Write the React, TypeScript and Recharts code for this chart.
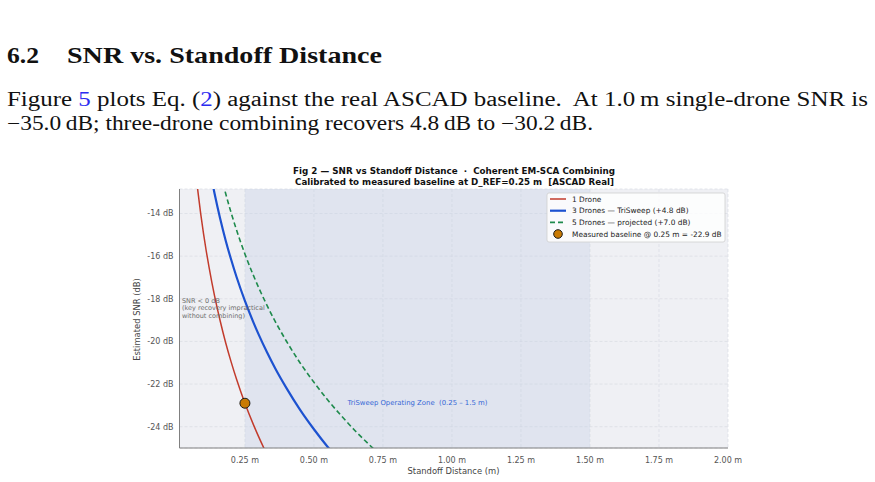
import {
  ComposedChart,
  Line,
  Scatter,
  XAxis,
  YAxis,
  CartesianGrid,
  ReferenceArea,
  ReferenceDot,
} from "recharts";

// standoff distance samples (m) and estimated SNR (dB)
const DISTANCE_M = [
  0.07, 0.08, 0.09, 0.1, 0.11, 0.12, 0.13, 0.14, 0.15, 0.16, 0.18, 0.2, 0.22, 0.25, 0.28, 0.3, 0.33,
  0.36, 0.4, 0.45, 0.5, 0.55, 0.6, 0.65, 0.7, 0.75, 0.8,
];
const SNR_1_DRONE = [
  -11.84, -13.0, -14.03, -14.94, -15.77, -16.52, -17.22, -17.86, -18.46, -19.02, -20.05, -20.96,
  -21.79, -22.9, -23.88, -24.48, -25.31, -26.07, -26.98, -28.01, -28.92, -29.75, -30.5, -31.2,
  -31.84, -32.44, -33.0,
];
const SNR_3_DRONES = [
  -7.04, -8.2, -9.23, -10.14, -10.97, -11.72, -12.42, -13.06, -13.66, -14.22, -15.25, -16.16,
  -16.99, -18.1, -19.08, -19.68, -20.51, -21.27, -22.18, -23.21, -24.12, -24.95, -25.7, -26.4,
  -27.04, -27.64, -28.2,
];
const SNR_5_DRONES = [
  -4.84, -6.0, -7.03, -7.94, -8.77, -9.52, -10.22, -10.86, -11.46, -12.02, -13.05, -13.96, -14.79,
  -15.9, -16.88, -17.48, -18.31, -19.07, -19.98, -21.01, -21.92, -22.75, -23.5, -24.2, -24.84,
  -25.44, -26.0,
];
const BASELINE = [{ d: 0.25, snr: -22.9 }];

const X_TICKS = [0.25, 0.5, 0.75, 1.0, 1.25, 1.5, 1.75, 2.0];
const Y_TICKS = [-24, -22, -20, -18, -16, -14];
const ZONE = [0.25, 1.5];

const SERIES_LABELS = [
  "1 Drone",
  "3 Drones — TriSweep (+4.8 dB)",
  "5 Drones — projected (+7.0 dB)",
  "Measured baseline @ 0.25 m = -22.9 dB",
];

const RED = "#c23b2c";
const BLUE = "#1d52d0";
const GREEN = "#1e8a4c";
const ORANGE = "#c97a04";

const rows = DISTANCE_M.map((d, i) => ({
  d,
  one: SNR_1_DRONE[i],
  three: SNR_3_DRONES[i],
  five: SNR_5_DRONES[i],
}));

const FONT = "'DejaVu Sans', sans-serif";
const SERIF = "'Liberation Serif', 'Times New Roman', serif";
const LINK = "#2b2bf0";
const PRE = { whiteSpace: "pre" as const };

function PageText() {
  return (
    <svg
      width={875}
      height={482}
      style={{ position: "absolute", left: 0, top: 0, pointerEvents: "none" }}
    >
      <g fontFamily={SERIF} fill="#111">
        <text x={7} y={63} fontSize={22.5} fontWeight="bold" textLength={32} lengthAdjust="spacingAndGlyphs">
          6.2
        </text>
        <text x={67} y={63} fontSize={22.5} fontWeight="bold" textLength={315} lengthAdjust="spacingAndGlyphs">
          SNR vs. Standoff Distance
        </text>
        <text x={7} y={106} fontSize={20} textLength={861} lengthAdjust="spacingAndGlyphs" style={PRE}>
          {"Figure "}
          <tspan fill={LINK}>5</tspan>
          {" plots Eq. ("}
          <tspan fill={LINK}>2</tspan>
          {") against the real ASCAD baseline.  At 1.0\u2009m single-drone SNR is"}
        </text>
        <text x={7} y={130} fontSize={20} textLength={586} lengthAdjust="spacingAndGlyphs">
          {"\u221235.0\u2009dB; three-drone combining recovers 4.8\u2009dB to \u221230.2\u2009dB."}
        </text>
      </g>

      <g fontFamily={FONT} fontWeight="bold" fill="#111" fontSize={8.6} textAnchor="middle">
        <text x={454} y={174} textLength={322} lengthAdjust="spacingAndGlyphs" style={PRE}>
          {"Fig 2 — SNR vs Standoff Distance  ·  Coherent EM-SCA Combining"}
        </text>
        <text x={454.5} y={184.5} textLength={319} lengthAdjust="spacingAndGlyphs" style={PRE}>
          {"Calibrated to measured baseline at D_REF=0.25 m  [ASCAD Real]"}
        </text>
      </g>

      <g fontFamily={FONT} fill="#444" fontSize={8.4} textAnchor="middle">
        <text x={137} y={319.5} transform="rotate(-90 137 319.5)" dominantBaseline="central">
          Estimated SNR (dB)
        </text>
        <text x={453.5} y={473.5}>Standoff Distance (m)</text>
      </g>

      <g fontFamily={FONT} fontSize={7.4} fill="#222">
        <rect x={547} y={193} width={178} height={49} rx={2} fill="#ffffff" fillOpacity={0.82} stroke="#cfcfcf" strokeWidth={0.8} />
        <line x1={550} x2={566} y1={199} y2={199} stroke={RED} strokeWidth={1.5} />
        <line x1={550} x2={566} y1={210.7} y2={210.7} stroke={BLUE} strokeWidth={2.2} />
        <line x1={550} x2={566} y1={222.4} y2={222.4} stroke={GREEN} strokeWidth={1.6} strokeDasharray="5 3" />
        <circle cx={558} cy={234} r={4.3} fill={ORANGE} stroke="#1a1a1a" strokeWidth={1} />
        {SERIES_LABELS.map((label, i) => (
          <text key={label} x={572} y={199 + i * 11.7} dominantBaseline="central">
            {label}
          </text>
        ))}
      </g>
    </svg>
  );
}

export default function App() {
  return (
    <div style={{ position: "absolute", left: 0, top: 0, width: 875, height: 482, background: "#fff" }}>
      <div style={{ position: "absolute", left: 0, top: 152 }}>
        <ComposedChart
          width={875}
          height={330}
          data={rows}
          margin={{ top: 37, right: 147, left: 0, bottom: 0 }}
        >
          <CartesianGrid
            fill="#eff0f4"
            stroke="#d9dbe2"
            strokeDasharray="3 2"
            strokeWidth={0.7}
          />
          <XAxis
            type="number"
            dataKey="d"
            domain={[0.013, 2.0]}
            allowDataOverflow
            ticks={X_TICKS}
            tickFormatter={(v) => `${Number(v).toFixed(2)} m`}
            tick={{ fontSize: 8, fill: "#555", fontFamily: FONT }}
            tickLine={false}
            tickSize={6}
            tickMargin={3}
            axisLine={{ stroke: "#808080", strokeWidth: 1 }}
            height={34}
            interval={0}
          />
          <YAxis
            type="number"
            domain={[-25, -12.85]}
            allowDataOverflow
            ticks={Y_TICKS}
            tickFormatter={(v) => `${v} dB`}
            tick={{ fontSize: 8, fill: "#555", fontFamily: FONT }}
            tickLine={false}
            tickSize={4}
            tickMargin={2}
            axisLine={{ stroke: "#808080", strokeWidth: 1 }}
            width={179.5}
            interval={0}
          />
          <ReferenceArea
            x1={ZONE[0]}
            x2={ZONE[1]}
            y1={-25}
            y2={-12.85}
            fill="#c4cfe6"
            fillOpacity={0.36}
            stroke="none"
          />
          <ReferenceDot
            x={0.022}
            y={-18.11}
            r={0}
            ifOverflow="visible"
            shape={(p: any) => (
              <text x={p.cx} y={p.cy} fontFamily={FONT} fontSize={6.5} fill="#6e6e6e" dominantBaseline="central">
                <tspan x={p.cx} dy={0}>SNR &lt; 0 dB</tspan>
                <tspan x={p.cx} dy={7.3}>(key recovery impractical</tspan>
                <tspan x={p.cx} dy={7.3}>without combining)</tspan>
              </text>
            )}
          />
          <ReferenceDot
            x={(ZONE[0] + ZONE[1]) / 2}
            y={-22.9}
            r={0}
            ifOverflow="visible"
            shape={(p: any) => (
              <text
                x={p.cx}
                y={p.cy}
                fontFamily={FONT}
                fontSize={6.9}
                fill="#3567d6"
                textAnchor="middle"
                dominantBaseline="central"
                style={PRE}
              >
                {"TriSweep Operating Zone  (0.25 – 1.5 m)"}
              </text>
            )}
          />
          <Line
            type="monotone"
            dataKey="one"
            stroke={RED}
            strokeWidth={1.5}
            dot={false}
            activeDot={false}
            isAnimationActive={false}
          />
          <Line
            type="monotone"
            dataKey="three"
            stroke={BLUE}
            strokeWidth={2.2}
            dot={false}
            activeDot={false}
            isAnimationActive={false}
          />
          <Line
            type="monotone"
            dataKey="five"
            stroke={GREEN}
            strokeWidth={1.6}
            strokeDasharray="5 3"
            dot={false}
            activeDot={false}
            isAnimationActive={false}
          />
          <Scatter
            data={BASELINE}
            dataKey="snr"
            isAnimationActive={false}
            shape={(p: any) => (
              <circle cx={p.cx} cy={p.cy} r={5} fill={ORANGE} stroke="#1a1a1a" strokeWidth={1} />
            )}
          />
        </ComposedChart>
      </div>
      <PageText />
    </div>
  );
}
